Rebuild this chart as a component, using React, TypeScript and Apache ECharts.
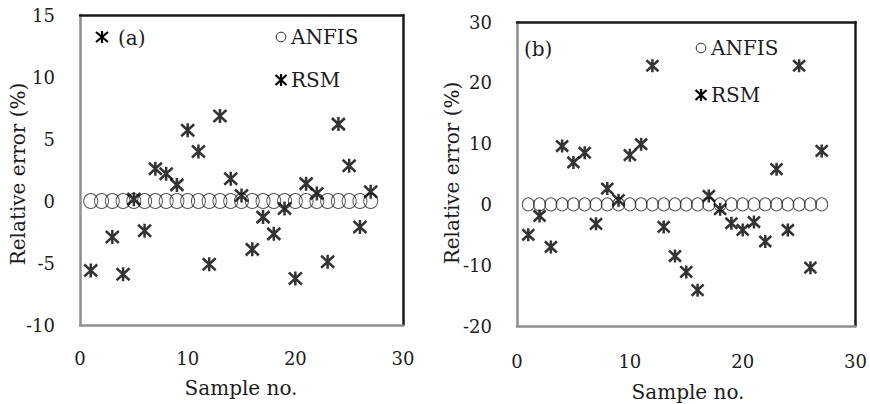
import React, { useEffect, useRef } from "react";
import * as echarts from "echarts";

const samples = Array.from({ length: 27 }, (_, i) => i + 1);

const anfisA = [0, 0, 0, 0, 0, 0, 0, 0, 0, 0, 0, 0, 0, 0, 0, 0, 0, 0, 0, 0, 0, 0, 0, 0, 0, 0, 0];
const rsmA = [-5.6, 0, -2.9, -5.9, 0.15, -2.4, 2.6, 2.2, 1.3, 5.7, 4.0, -5.1, 6.85, 1.8, 0.45, -3.9, -1.3, -2.65, -0.6, -6.25, 1.4, 0.6, -4.9, 6.2, 2.85, -2.1, 0.75];
const rsmAPresent = [true, false, true, true, true, true, true, true, true, true, true, true, true, true, true, true, true, true, true, true, true, true, true, true, true, true, true];

const anfisB = [0, 0, 0, 0, 0, 0, 0, 0, 0, 0, 0, 0, 0, 0, 0, 0, 0, 0, 0, 0, 0, 0, 0, 0, 0, 0, 0];
const rsmB = [-5.0, -1.9, -7.0, 9.6, 6.9, 8.5, -3.2, 2.6, 0.7, 8.1, 9.9, 22.8, -3.7, -8.5, -11.1, -14.1, 1.4, -0.8, -3.1, -4.2, -2.9, -6.1, 5.8, -4.2, 22.8, -10.4, 8.8];

const xTicks = { min: 0, max: 30, interval: 10 };
const yTicksA = { min: -10, max: 15, interval: 5 };
const yTicksB = { min: -20, max: 30, interval: 10 };

const FONT = "DejaVu Serif";
const STAR = "path://M0,1L12,13M12,1L0,13M6,0L6,14";
const TXT = "#1c1c1c";

function pairs(xs: number[], ys: number[], present?: boolean[]) {
  return xs.map((x, i) => [x, ys[i]]).filter((_, i) => !present || present[i]);
}

function star(cx: number, cy: number, w: number, h: number) {
  return [
    { type: "line", shape: { x1: cx - w, y1: cy - h, x2: cx + w, y2: cy + h }, style: { stroke: "#000", lineWidth: 2.2 } },
    { type: "line", shape: { x1: cx + w, y1: cy - h, x2: cx - w, y2: cy + h }, style: { stroke: "#000", lineWidth: 2.2 } },
    { type: "line", shape: { x1: cx, y1: cy - h - 1, x2: cx, y2: cy + h + 1 }, style: { stroke: "#000", lineWidth: 2.2 } },
  ];
}

function legendGroup(x: number, y: number, gap: number) {
  return [
    { type: "circle", shape: { cx: x + 5, cy: y, r: 4.8 }, style: { fill: "#fff", stroke: "#222", lineWidth: 1 } },
    { type: "text", x: x + 15, y: y, style: { text: "ANFIS", font: `20px '${FONT}'`, fill: TXT, textVerticalAlign: "middle" } },
    ...star(x + 5, y + gap, 5.5, 5),
    { type: "text", x: x + 15, y: y + gap, style: { text: "RSM", font: `20px '${FONT}'`, fill: TXT, textVerticalAlign: "middle" } },
  ];
}

export default function App() {
  const ref = useRef<HTMLDivElement>(null);
  useEffect(() => {
    if (!ref.current) return;
    const chart = echarts.init(ref.current, null, { renderer: "svg" });
    const axisLabel = { fontFamily: FONT, fontSize: 18, color: TXT };
    const grayLine = { show: true, onZero: false, lineStyle: { color: "#8e8e8e", width: 2.5 } };
    const blackLine = { show: true, onZero: false, lineStyle: { color: "#1a1a1a", width: 2.5 } };
    const hidden = { show: false };
    const option: any = {
      animation: false,
      backgroundColor: "#fff",
      grid: [
        { left: 80, top: 15, width: 323, height: 310 },
        { left: 517, top: 22, width: 339, height: 304 },
      ],
      xAxis: [
        { gridIndex: 0, type: "value", ...xTicks, axisLine: grayLine, axisTick: hidden, splitLine: hidden, axisLabel: { ...axisLabel, margin: 24 } },
        { gridIndex: 1, type: "value", ...xTicks, axisLine: grayLine, axisTick: hidden, splitLine: hidden, axisLabel: { ...axisLabel, margin: 26 } },
        { gridIndex: 0, type: "value", position: "top", ...xTicks, axisLine: blackLine, axisTick: hidden, splitLine: hidden, axisLabel: hidden },
        { gridIndex: 1, type: "value", position: "top", ...xTicks, axisLine: blackLine, axisTick: hidden, splitLine: hidden, axisLabel: hidden },
      ],
      yAxis: [
        { gridIndex: 0, type: "value", ...yTicksA, axisLine: grayLine, axisTick: hidden, splitLine: hidden, axisLabel: { ...axisLabel, margin: 25 } },
        { gridIndex: 1, type: "value", ...yTicksB, axisLine: grayLine, axisTick: hidden, splitLine: hidden, axisLabel: { ...axisLabel, margin: 25 } },
        { gridIndex: 0, type: "value", position: "right", ...yTicksA, axisLine: blackLine, axisTick: hidden, splitLine: hidden, axisLabel: hidden },
        { gridIndex: 1, type: "value", position: "right", ...yTicksB, axisLine: blackLine, axisTick: hidden, splitLine: hidden, axisLabel: hidden },
      ],
      series: [
        {
          type: "scatter", name: "ANFIS", xAxisIndex: 0, yAxisIndex: 0,
          data: pairs(samples, anfisA), symbol: "circle", symbolSize: [14, 15],
          itemStyle: { color: "rgba(255,255,255,0)", borderColor: "#2a2a2a", borderWidth: 1 },
        },
        {
          type: "scatter", name: "RSM", xAxisIndex: 0, yAxisIndex: 0,
          data: pairs(samples, rsmA, rsmAPresent), symbol: STAR, symbolSize: [13, 14],
          itemStyle: { color: "#000", borderColor: "#000", borderWidth: 2.6 },
        },
        {
          type: "scatter", name: "ANFIS", xAxisIndex: 1, yAxisIndex: 1,
          data: pairs(samples, anfisB), symbol: "circle", symbolSize: [12, 13],
          itemStyle: { color: "rgba(255,255,255,0)", borderColor: "#2a2a2a", borderWidth: 1 },
        },
        {
          type: "scatter", name: "RSM", xAxisIndex: 1, yAxisIndex: 1,
          data: pairs(samples, rsmB), symbol: STAR, symbolSize: [12, 13],
          itemStyle: { color: "#000", borderColor: "#000", borderWidth: 2.6 },
        },
      ],
      graphic: [
        { type: "text", x: 241, y: 388, style: { text: "Sample no.", font: `20px '${FONT}'`, fill: TXT, textAlign: "center", textVerticalAlign: "middle" } },
        { type: "text", x: 688, y: 392, style: { text: "Sample no.", font: `20px '${FONT}'`, fill: TXT, textAlign: "center", textVerticalAlign: "middle" } },
        { type: "text", x: 18, y: 174, rotation: Math.PI / 2, style: { text: "Relative error (%)", font: `20px '${FONT}'`, fill: TXT, textAlign: "center", textVerticalAlign: "middle" } },
        { type: "text", x: 452, y: 173, rotation: Math.PI / 2, style: { text: "Relative error (%)", font: `20px '${FONT}'`, fill: TXT, textAlign: "center", textVerticalAlign: "middle" } },
        ...star(102, 37, 6, 5),
        { type: "text", x: 118, y: 38, style: { text: "(a)", font: `20px '${FONT}'`, fill: TXT, textVerticalAlign: "middle" } },
        { type: "text", x: 524, y: 49, style: { text: "(b)", font: `20px '${FONT}'`, fill: TXT, textVerticalAlign: "middle" } },
        ...legendGroup(276, 37, 43),
        ...legendGroup(696, 48, 47),
      ],
    };
    chart.setOption(option);
    return () => chart.dispose();
  }, []);
  return <div ref={ref} style={{ position: "fixed", left: 0, top: 0, width: 870, height: 404, background: "#fff" }} />;
}
